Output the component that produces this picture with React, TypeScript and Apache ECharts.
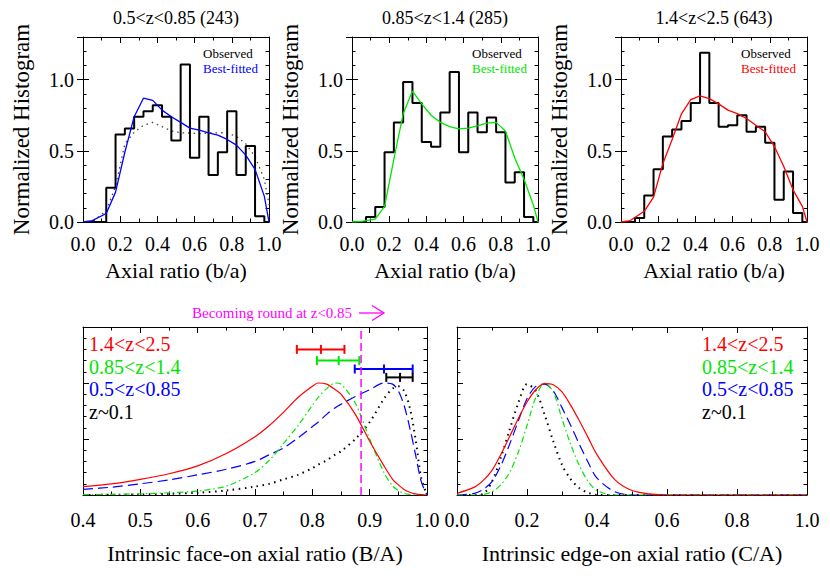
import React, { useEffect, useRef } from "react";
import * as echarts from "echarts";

const FONT = '"Liberation Serif", "Times New Roman", Times, serif';
const RED = "#ff0000";
const GREEN = "#00e600";
const BLUE = "#0000ff";
const BLACK = "#000000";
const MAGENTA = "#ff00ff";

// ---------- top panels: histograms ----------
const panelTitles = ["0.5<z<0.85 (243)", "0.85<z<1.4 (285)", "1.4<z<2.5 (643)"];
const binCenters = [0.0, 0.05, 0.1, 0.15, 0.2, 0.25, 0.3, 0.35, 0.4, 0.45, 0.5, 0.55, 0.6, 0.65, 0.7, 0.75, 0.8, 0.85, 0.9, 0.95, 1.0];
const hist1 = [0, 0, 0, 0.24, 0.615, 0.657, 0.739, 0.778, 0.82, 0.739, 0.573, 1.107, 0.452, 0.739, 0.331, 0.49, 0.778, 0.331, 0.534, 0.04, 0];
const hist2 = [0, 0, 0.035, 0.105, 0.49, 0.7, 0.984, 0.837, 0.562, 0.529, 0.77, 1.054, 0.49, 0.77, 0.63, 0.734, 0.63, 0.277, 0.35, 0.035, 0];
const hist3 = [0, 0, 0.028, 0.186, 0.37, 0.6, 0.65, 0.71, 0.837, 1.19, 0.837, 0.67, 0.68, 0.75, 0.634, 0.67, 0.557, 0.156, 0.354, 0.063, 0];

const fitX = [0.0, 0.05, 0.125, 0.175, 0.225, 0.275, 0.325, 0.375, 0.425, 0.475, 0.525, 0.575, 0.625, 0.675, 0.725, 0.775, 0.825, 0.875, 0.925, 0.975, 1.0];
const fit1 = [0, 0.01, 0.06, 0.21, 0.49, 0.74, 0.87, 0.855, 0.786, 0.74, 0.7, 0.66, 0.646, 0.627, 0.61, 0.58, 0.54, 0.47, 0.37, 0.18, 0];
const fit2 = [0, 0.005, 0.02, 0.11, 0.44, 0.76, 0.92, 0.83, 0.75, 0.7, 0.67, 0.655, 0.66, 0.675, 0.695, 0.7, 0.64, 0.45, 0.3, 0.12, 0];
const fit3 = [0, 0.01, 0.075, 0.175, 0.41, 0.58, 0.76, 0.86, 0.886, 0.867, 0.83, 0.786, 0.762, 0.727, 0.68, 0.634, 0.53, 0.39, 0.226, 0.11, 0];
const dotted1 = [0, 0, 0.08, 0.25, 0.55, 0.63, 0.68, 0.7, 0.67, 0.64, 0.627, 0.625, 0.62, 0.625, 0.627, 0.627, 0.6, 0.55, 0.46, 0.3, 0.12];

// ---------- bottom-left: face-on axial ratio ----------
const faceX = [0.4, 0.45, 0.5, 0.55, 0.6, 0.65, 0.7, 0.725, 0.75, 0.775, 0.8, 0.81, 0.825, 0.84, 0.85, 0.875, 0.9, 0.925, 0.94, 0.95, 0.96, 0.97, 0.98, 0.99, 1.0];
const faceRed = [0.075, 0.1, 0.14, 0.19, 0.26, 0.37, 0.52, 0.62, 0.74, 0.87, 0.97, 1.0, 0.99, 0.94, 0.9, 0.72, 0.48, 0.26, 0.14, 0.09, 0.05, 0.025, 0.01, 0.003, 0];
const faceGreen = [0.003, 0.006, 0.01, 0.02, 0.035, 0.08, 0.2, 0.31, 0.46, 0.62, 0.8, 0.87, 0.95, 1.0, 0.99, 0.82, 0.5, 0.2, 0.08, 0.04, 0.015, 0.005, 0, 0, 0];
const faceBlue = [0.05, 0.07, 0.1, 0.135, 0.18, 0.23, 0.3, 0.36, 0.42, 0.51, 0.61, 0.65, 0.72, 0.78, 0.81, 0.88, 0.94, 1.0, 0.99, 0.93, 0.8, 0.6, 0.36, 0.12, 0];
const faceBlack = [0, 0.002, 0.005, 0.01, 0.02, 0.04, 0.075, 0.1, 0.14, 0.18, 0.24, 0.27, 0.31, 0.36, 0.39, 0.5, 0.65, 0.86, 0.95, 0.97, 0.93, 0.78, 0.5, 0.15, 0];
const roundLine = 0.885;

const errCenter = [0.815, 0.846, 0.925, 0.953];
const errLow = [0.773, 0.808, 0.874, 0.929];
const errHigh = [0.856, 0.882, 0.975, 0.975];
const errLevel = [1.3, 1.2, 1.125, 1.05];

// ---------- bottom-right: edge-on axial ratio ----------
const edgeX = [0.0, 0.05, 0.075, 0.1, 0.125, 0.15, 0.175, 0.2, 0.225, 0.25, 0.275, 0.3, 0.325, 0.35, 0.375, 0.4, 0.45, 0.5, 0.55, 0.6, 0.7, 0.8, 0.9, 1.0];
const edgeRed = [0.015, 0.07, 0.13, 0.22, 0.36, 0.52, 0.68, 0.83, 0.94, 0.995, 0.985, 0.92, 0.8, 0.66, 0.51, 0.36, 0.14, 0.04, 0.01, 0, 0, 0, 0, 0];
const edgeGreen = [0, 0, 0.005, 0.03, 0.09, 0.2, 0.38, 0.62, 0.87, 1.0, 0.92, 0.68, 0.45, 0.26, 0.12, 0.04, 0, 0, 0, 0, 0, 0, 0, 0];
const edgeBlue = [0, 0.015, 0.05, 0.12, 0.26, 0.45, 0.66, 0.86, 0.97, 0.99, 0.93, 0.78, 0.62, 0.45, 0.29, 0.15, 0.03, 0, 0, 0, 0, 0, 0, 0];
const edgeBlack = [0, 0, 0.01, 0.12, 0.33, 0.58, 0.82, 0.99, 0.93, 0.72, 0.48, 0.27, 0.14, 0.06, 0.02, 0, 0, 0, 0, 0, 0, 0, 0, 0];

const legendLabels = ["1.4<z<2.5", "0.85<z<1.4", "0.5<z<0.85", "z~0.1"];
const legendColors = [RED, GREEN, BLUE, BLACK];

const zip = (xs: number[], ys: number[]) => xs.map((x, i) => [x, ys[i]]);

export default function App() {
  const ref = useRef<HTMLDivElement>(null);
  useEffect(() => {
    const chart = echarts.init(ref.current!, null, { renderer: "svg" });
    const grids: any[] = [];
    const xAxes: any[] = [];
    const yAxes: any[] = [];
    const series: any[] = [];
    const lineSt = { color: "#000", width: 1 };

    const addGrid = (left: number, top: number, width: number, height: number) => {
      grids.push({ left, top, width, height, containLabel: false });
      return grids.length - 1;
    };

    const addX = (gi: number, min: number, max: number, interval: number, name: string, nameGap: number, margin: number) => {
      const base: any = {
        type: "value", gridIndex: gi, min, max, interval,
        splitLine: { show: false },
        axisLine: { show: true, onZero: false, lineStyle: lineSt },
        axisTick: { show: true, inside: true, length: 6, lineStyle: lineSt },
        minorTick: { show: true, splitNumber: 2, length: 3.5, lineStyle: lineSt },
        minorSplitLine: { show: false },
      };
      xAxes.push({
        ...base, position: "bottom",
        axisLabel: { show: true, fontFamily: FONT, fontSize: 20, color: "#000", margin, formatter: (v: number) => v.toFixed(1) },
        name, nameLocation: "middle", nameGap,
        nameTextStyle: { fontFamily: FONT, fontSize: 22, color: "#000" },
      });
      const idx = xAxes.length - 1;
      xAxes.push({ ...base, position: "top", axisLabel: { show: false } });
      return idx;
    };

    const addYTop = (gi: number) => {
      const base: any = {
        type: "value", gridIndex: gi, min: 0, max: 1.3,
        splitLine: { show: false },
        axisLine: { show: true, onZero: false, lineStyle: lineSt },
      };
      yAxes.push({
        ...base, position: "left", interval: 0.1,
        axisTick: { show: true, inside: true, length: 3.5, lineStyle: lineSt },
        axisLabel: {
          show: true, fontFamily: FONT, fontSize: 20, color: "#000", margin: 9,
          formatter: (v: number) => (Math.abs(v * 2 - Math.round(v * 2)) < 1e-6 ? v.toFixed(1) : ""),
        },
        name: "Normalized Histogram", nameLocation: "middle", nameGap: 50, nameRotate: 90,
        nameTextStyle: { fontFamily: FONT, fontSize: 23, color: "#000" },
      });
      const idx = yAxes.length - 1;
      yAxes.push({ ...base, position: "left", interval: 0.5, axisLine: { show: false }, axisTick: { show: true, inside: true, length: 6, lineStyle: lineSt }, axisLabel: { show: false } });
      yAxes.push({ ...base, position: "right", interval: 0.1, axisTick: { show: true, inside: true, length: 3.5, lineStyle: lineSt }, axisLabel: { show: false } });
      yAxes.push({ ...base, position: "right", interval: 0.5, axisLine: { show: false }, axisTick: { show: true, inside: true, length: 6, lineStyle: lineSt }, axisLabel: { show: false } });
      return idx;
    };

    const addYBottom = (gi: number) => {
      const base: any = {
        type: "value", gridIndex: gi, min: 0, max: 1.5, interval: 0.5,
        splitLine: { show: false },
        axisLine: { show: true, onZero: false, lineStyle: lineSt },
        axisTick: { show: true, inside: true, length: 6, lineStyle: lineSt },
        minorTick: { show: true, splitNumber: 5, length: 3.5, lineStyle: lineSt },
        axisLabel: { show: false },
      };
      yAxes.push({ ...base, position: "left" });
      const idx = yAxes.length - 1;
      yAxes.push({ ...base, position: "right" });
      return idx;
    };

    const lineSeries = (xi: number, yi: number, data: number[][], color: string, width: number, type: any, extra: any = {}) => ({
      type: "line", xAxisIndex: xi, yAxisIndex: yi, data, showSymbol: false, symbol: "none",
      lineStyle: { color, width, type }, itemStyle: { color }, silent: true, ...extra,
    });

    // top panels
    const topLefts = [83, 352, 621];
    const hists = [hist1, hist2, hist3];
    const fits = [fit1, fit2, fit3];
    const fitColors = [BLUE, GREEN, RED];
    topLefts.forEach((l, k) => {
      const gi = addGrid(l, 37, 186, 185);
      const xi = addX(gi, 0, 1, 0.2, "Axial ratio (b/a)", 37, 12);
      const yi = addYTop(gi);
      if (k === 0) series.push(lineSeries(xi, yi, zip(fitX, dotted1), "#444", 1.3, [1.5, 4]));
      series.push(lineSeries(xi, yi, zip(binCenters, hists[k]), BLACK, 2, "solid", { step: "middle" }));
      series.push(lineSeries(xi, yi, zip(fitX, fits[k]), fitColors[k], 1.3, "solid"));
    });

    // bottom-left
    const g4 = addGrid(83, 327, 344, 168);
    const x4 = addX(g4, 0.4, 1.0, 0.1, "Intrinsic face-on axial ratio (B/A)", 47, 15);
    const y4 = addYBottom(g4);
    series.push(lineSeries(x4, y4, zip(faceX, faceBlack), BLACK, 2, [1.5, 4.5], { smooth: 0.3 }));
    series.push(lineSeries(x4, y4, zip(faceX, faceBlue), BLUE, 1.2, [10, 5], { smooth: 0.3 }));
    series.push(lineSeries(x4, y4, zip(faceX, faceGreen), GREEN, 1.2, [6, 3, 1.5, 3], { smooth: 0.3 }));
    series.push(lineSeries(x4, y4, zip(faceX, faceRed), RED, 1.2, "solid", { smooth: 0.3 }));
    series.push(lineSeries(x4, y4, [[roundLine, 0], [roundLine, 1.5]], MAGENTA, 1.5, [8, 4]));
    legendColors.forEach((color, i) => {
      series.push({
        type: "custom", xAxisIndex: x4, yAxisIndex: y4, clip: false, silent: true,
        data: [[errCenter[i], errLow[i], errHigh[i], errLevel[i]]],
        encode: { x: [0, 1, 2], y: 3 },
        renderItem: (_p: any, api: any) => {
          const c = api.coord([api.value(0), api.value(3)]);
          const lo = api.coord([api.value(1), api.value(3)]);
          const hi = api.coord([api.value(2), api.value(3)]);
          const st = { stroke: color, lineWidth: 2, fill: null };
          const cap = 4.5;
          const v = (p: number[]) => ({ type: "line", shape: { x1: p[0], y1: p[1] - cap, x2: p[0], y2: p[1] + cap }, style: st });
          return {
            type: "group",
            children: [
              { type: "line", shape: { x1: lo[0], y1: lo[1], x2: hi[0], y2: hi[1] }, style: st },
              v(lo), v(hi), v(c),
            ],
          };
        },
      });
    });

    // bottom-right
    const g5 = addGrid(457, 327, 350, 168);
    const x5 = addX(g5, 0, 1, 0.2, "Intrinsic edge-on axial ratio (C/A)", 47, 15);
    const y5 = addYBottom(g5);
    series.push(lineSeries(x5, y5, zip(edgeX, edgeBlack), BLACK, 2, [1.5, 4.5], { smooth: 0.3 }));
    series.push(lineSeries(x5, y5, zip(edgeX, edgeBlue), BLUE, 1.2, [10, 5], { smooth: 0.3 }));
    series.push(lineSeries(x5, y5, zip(edgeX, edgeGreen), GREEN, 1.2, [6, 3, 1.5, 3], { smooth: 0.3 }));
    series.push(lineSeries(x5, y5, zip(edgeX, edgeRed), RED, 1.2, "solid", { smooth: 0.3 }));

    const txt = (x: number, y: number, text: string, size: number, color: string, align = "left") => ({
      type: "text", x, y, silent: true,
      style: {
        text, fill: color, font: `${size}px ${FONT}`,
        textAlign: align, textVerticalAlign: "middle", align, verticalAlign: "middle",
      },
    });

    const graphic: any[] = [];
    topLefts.forEach((l, k) => {
      graphic.push(txt(l + 93, 18, panelTitles[k], 18, BLACK, "center"));
      graphic.push(txt(l + 120, 53, "Observed", 13, BLACK));
      graphic.push(txt(l + 120, 68, "Best-fitted", 13, fitColors[k]));
    });
    legendLabels.forEach((t, i) => {
      graphic.push(txt(89, 344 + i * 22.7, t, 20, legendColors[i]));
      graphic.push(txt(702, 344 + i * 22.7, t, 20, legendColors[i]));
    });
    graphic.push(txt(192, 313, "Becoming round at z<0.85", 15, MAGENTA));
    graphic.push({ type: "line", silent: true, shape: { x1: 359, y1: 313, x2: 384, y2: 313 }, style: { stroke: MAGENTA, lineWidth: 1.3 } });
    graphic.push({ type: "polyline", silent: true, shape: { points: [[372, 305.5], [384, 313], [372, 320.5]] }, style: { stroke: MAGENTA, lineWidth: 1.3, fill: null } });

    chart.setOption({
      animation: false,
      backgroundColor: "#fff",
      grid: grids,
      xAxis: xAxes,
      yAxis: yAxes,
      series,
      graphic,
    });
    return () => chart.dispose();
  }, []);
  return <div ref={ref} style={{ position: "fixed", left: 0, top: 0, width: 830, height: 579 }} />;
}
